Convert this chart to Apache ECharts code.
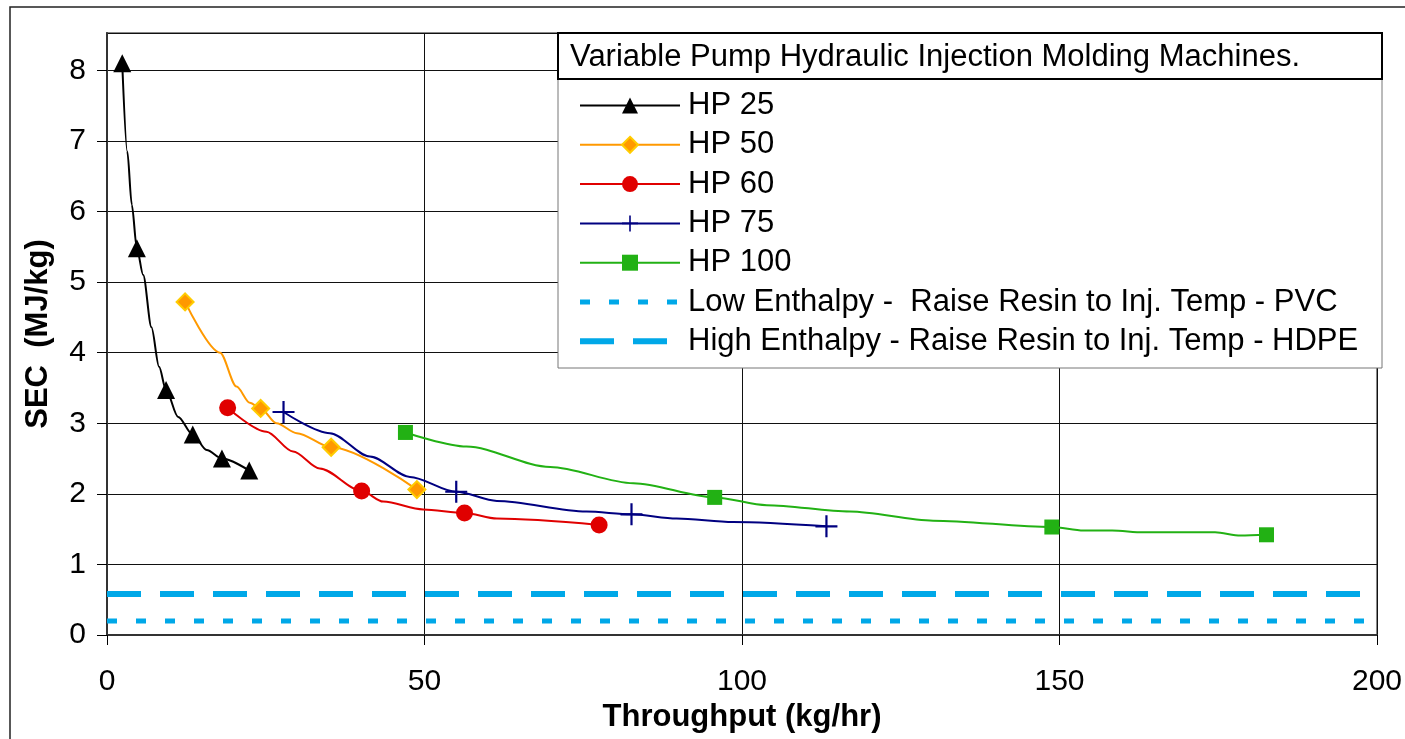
<!DOCTYPE html>
<html>
<head>
<meta charset="utf-8">
<script src="https://cdn.jsdelivr.net/npm/echarts@6/dist/echarts.min.js"></script>
<style>
  html, body { margin: 0; padding: 0; background: #fff; }
  #chart { width: 1405px; height: 739px; }
</style>
</head>
<body>
<div id="chart"></div>
<script>
// [throughput, SEC, marker shown?]
var hp25 = [[2.4, 8.1, 1], [3.2, 6.85, 0], [3.9, 6.1, 0], [4.7, 5.48, 1], [5.7, 5.1, 0], [7.0, 4.36, 0],
  [8.2, 3.8, 0], [9.3, 3.47, 1], [11.2, 3.09, 0], [13.5, 2.84, 1], [15.7, 2.62, 0], [18.1, 2.5, 1], [22.4, 2.33, 1]];
var hp50 = [[12.3, 4.72, 1], [17.8, 4.0, 0], [20.4, 3.52, 0], [22.5, 3.29, 0], [24.2, 3.21, 1], [26.7, 3.0, 0],
  [29.9, 2.86, 0], [35.3, 2.66, 1], [48.8, 2.06, 1]];
var hp60 = [[19.0, 3.22, 1], [25.1, 2.88, 0], [29.3, 2.6, 0], [33.5, 2.36, 0], [40.1, 2.04, 1], [43.5, 1.89, 0],
  [49.8, 1.78, 0], [56.3, 1.73, 1], [61.4, 1.65, 0], [77.5, 1.56, 1]];
var hp75 = [[27.8, 3.16, 1], [35.1, 2.86, 0], [41.4, 2.53, 0], [47.7, 2.24, 0], [55.0, 2.03, 1], [61.4, 1.9, 0],
  [75.5, 1.75, 0], [82.6, 1.71, 1], [89.7, 1.65, 0], [98.6, 1.6, 0], [113.3, 1.54, 1]];
var hp100 = [[47.0, 2.87, 1], [56.6, 2.67, 0], [69.8, 2.38, 0], [82.9, 2.15, 0], [95.7, 1.95, 1], [103.9, 1.84, 0],
  [117.0, 1.75, 0], [130.1, 1.62, 0], [148.8, 1.53, 1], [153.8, 1.48, 0], [158.3, 1.48, 0], [163.2, 1.455, 0],
  [174.5, 1.455, 0], [178.5, 1.41, 0], [182.6, 1.42, 1]];
var lowPVC = [[0, 0.2], [200, 0.2]];
var highHDPE = [[0, 0.58], [200, 0.58]];

var seriesNames = ['HP 25', 'HP 50', 'HP 60', 'HP 75', 'HP 100',
  'Low Enthalpy -  Raise Resin to Inj. Temp - PVC',
  'High Enthalpy - Raise Resin to Inj. Temp - HDPE'];
var legendTitle = 'Variable Pump Hydraulic Injection Molding Machines.';

var FONT = 'Liberation Sans, Arial, sans-serif';
var plusPath = 'path://M9,0h2v20h-2zM0,9h20v2h-20z';
var skyBlue = '#00A8E8';
var dotType = [10, 19];
var dashType = [34, 19];

// only marked points get a symbol
function toData(arr) {
  return arr.map(function (p) {
    return p[2] ? [p[0], p[1]] : { value: [p[0], p[1]], symbol: 'none' };
  });
}

function curve(name, arr, color, symbol, size, extra) {
  var s = {
    name: name,
    type: 'line',
    data: toData(arr),
    smooth: 0.3,
    smoothMonotone: 'x',
    symbol: symbol,
    symbolSize: size,
    showAllSymbol: true,
    lineStyle: { color: color, width: 2 },
    itemStyle: { color: color, opacity: 1 },
    emphasis: { disabled: true },
    z: 5
  };
  if (extra) Object.assign(s.itemStyle, extra);
  return s;
}

var legendData = seriesNames.slice(0, 5).map(function (n) { return { name: n }; });
legendData.push({ name: seriesNames[5], itemStyle: { opacity: 0 }, lineStyle: { width: 5, type: dotType } });
legendData.push({ name: seriesNames[6], itemStyle: { opacity: 0 }, lineStyle: { width: 6, type: dashType } });

var chart = echarts.init(document.getElementById('chart'));
chart.setOption({
  animation: false,
  grid: {
    left: 107, right: 28, top: 33, bottom: 104,
    show: true, borderColor: '#888', borderWidth: 2
  },
  xAxis: {
    type: 'value', min: 0, max: 200, interval: 50,
    name: 'Throughput (kg/hr)', nameLocation: 'middle', nameGap: 62,
    nameTextStyle: { fontFamily: FONT, fontSize: 31, fontWeight: 'bold', color: '#000' },
    axisLine: { lineStyle: { color: '#333', width: 2 } },
    axisTick: { show: true, length: 10, lineStyle: { color: '#000', width: 1 } },
    axisLabel: { fontFamily: FONT, fontSize: 30, color: '#000', margin: 32 },
    splitLine: { lineStyle: { color: '#111', width: 1 } }
  },
  yAxis: {
    type: 'value', min: 0, max: 8.53, interval: 1,
    name: 'SEC  (MJ/kg)', nameLocation: 'middle', nameGap: 53,
    nameTextStyle: { fontFamily: FONT, fontSize: 31, fontWeight: 'bold', color: '#000' },
    axisLine: { show: true, lineStyle: { color: '#333', width: 2 } },
    axisTick: { show: true, length: 10, lineStyle: { color: '#000', width: 1 } },
    axisLabel: {
      fontFamily: FONT, fontSize: 30, color: '#000', margin: 21, showMaxLabel: false,
      formatter: function (v) { return Math.abs(v - Math.round(v)) < 1e-6 ? String(Math.round(v)) : ''; }
    },
    splitLine: { lineStyle: { color: '#111', width: 1 } }
  },
  legend: {
    data: legendData,
    orient: 'vertical',
    left: 577, top: 90,
    padding: 0,
    itemWidth: 100, itemHeight: 20, itemGap: 8.3,
    selectedMode: false,
    z: 20,
    textStyle: { fontFamily: FONT, fontSize: 31, color: '#000', lineHeight: 20, padding: [0, 0, 0, 3] }
  },
  graphic: [
    { type: 'rect', z: 0, shape: { x: 10, y: 7, width: 1420, height: 760 },
      style: { fill: 'none', stroke: '#222', lineWidth: 1.5 } },
    { type: 'rect', z: 10, shape: { x: 558, y: 33, width: 824, height: 335 },
      style: { fill: '#fff', stroke: '#777', lineWidth: 1 } },
    { type: 'rect', z: 11, shape: { x: 558, y: 33, width: 824, height: 46 },
      style: { fill: '#fff', stroke: '#000', lineWidth: 2 } },
    { type: 'text', z: 12, x: 570, y: 57,
      style: { text: legendTitle, font: '31px ' + FONT, fill: '#000', verticalAlign: 'middle' } }
  ],
  series: [
    curve(seriesNames[0], hp25, '#000000', 'triangle', 18),
    curve(seriesNames[1], hp50, '#FF9900', 'diamond', 17, { color: '#FF9900', borderColor: '#FFCC00', borderWidth: 2 }),
    curve(seriesNames[2], hp60, '#E00000', 'circle', 17),
    curve(seriesNames[3], hp75, '#000080', plusPath, 22),
    curve(seriesNames[4], hp100, '#22B114', 'rect', 15),
    {
      name: seriesNames[5], type: 'line', data: lowPVC, symbol: 'none', z: 4,
      lineStyle: { color: skyBlue, width: 5, type: dotType },
      itemStyle: { color: skyBlue }, emphasis: { disabled: true }
    },
    {
      name: seriesNames[6], type: 'line', data: highHDPE, symbol: 'none', z: 4,
      lineStyle: { color: skyBlue, width: 6, type: dashType },
      itemStyle: { color: skyBlue }, emphasis: { disabled: true }
    }
  ]
});
</script>
</body>
</html>
